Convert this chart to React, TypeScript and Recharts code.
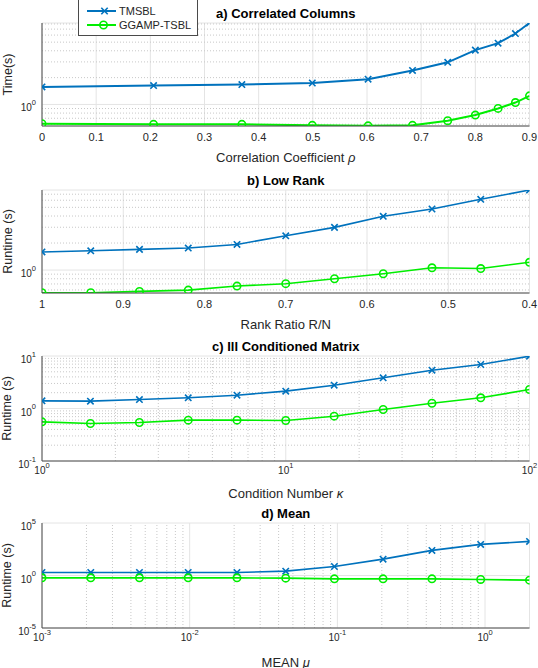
import React from "react";
import {
  LineChart,
  Line,
  XAxis,
  YAxis,
  CartesianGrid,
  ReferenceLine,
} from "recharts";

// a) correlated columns
const rhoValues = [0, 0.206, 0.369, 0.499, 0.602, 0.684, 0.749, 0.8, 0.842, 0.874, 0.9];
const corrTmsbl = [1.57, 1.63, 1.67, 1.74, 1.92, 2.41, 2.97, 4.07, 4.87, 6.25, 8.2];
const corrGgamp = [0.609, 0.598, 0.598, 0.583, 0.575, 0.583, 0.657, 0.76, 0.902, 1.05, 1.25];

// b) low rank
const rankRatios = [1, 0.94, 0.88, 0.82, 0.76, 0.7, 0.64, 0.58, 0.52, 0.46, 0.4];
const rankTmsbl = [1.59, 1.64, 1.7, 1.76, 1.93, 2.41, 2.99, 3.97, 4.79, 6.14, 7.8];
const rankGgamp = [0.559, 0.559, 0.578, 0.598, 0.663, 0.705, 0.8, 0.91, 1.06, 1.04, 1.22];

// c) ill conditioned matrix
const condNumbers = [1, 1.58, 2.51, 3.98, 6.31, 10, 15.8, 25.1, 39.8, 63.1, 100];
const condTmsbl = [1.4, 1.38, 1.48, 1.6, 1.79, 2.14, 2.78, 3.84, 5.37, 6.89, 9.93];
const condGgamp = [0.557, 0.518, 0.541, 0.6, 0.6, 0.591, 0.714, 0.957, 1.26, 1.6, 2.3];

// d) mean
const meanValues = [0.001, 0.00214, 0.00457, 0.00977, 0.0209, 0.0447, 0.0955, 0.204, 0.437, 0.934, 2];
const meanTmsbl = [1.94, 1.94, 1.94, 1.94, 1.94, 2.6, 7.2, 36, 245, 915, 1770];
const meanGgamp = [0.6, 0.6, 0.6, 0.6, 0.6, 0.56, 0.48, 0.48, 0.48, 0.42, 0.36];

// ticks
const rhoTicks = [0, 0.1, 0.2, 0.3, 0.4, 0.5, 0.6, 0.7, 0.8, 0.9];
const rankTicks = [1, 0.9, 0.8, 0.7, 0.6, 0.5, 0.4];
const condTicks = [1, 10, 100];
const meanTicks = [0.001, 0.01, 0.1, 1];
const unitTick = [1];
const condYTicks = [0.1, 1, 10];
const meanYTicks = [1e-5, 1, 1e5];

// minor grid values
const corrYMinor = [0.6, 0.7, 0.8, 0.9, 2, 3, 4, 5, 6, 7, 8];
const rankYMinor = [0.6, 0.7, 0.8, 0.9, 2, 3, 4, 5, 6, 7];
const condXMinor = [2, 3, 4, 5, 6, 7, 8, 9, 20, 30, 40, 50, 60, 70, 80, 90];
const condYMinor = [0.2, 0.3, 0.4, 0.5, 0.6, 0.7, 0.8, 0.9, 2, 3, 4, 5, 6, 7, 8, 9];
const meanXMinor = [
  0.002, 0.003, 0.004, 0.005, 0.006, 0.007, 0.008, 0.009,
  0.02, 0.03, 0.04, 0.05, 0.06, 0.07, 0.08, 0.09,
  0.2, 0.3, 0.4, 0.5, 0.6, 0.7, 0.8, 0.9,
];

const FONT = "'Liberation Sans', Arial, Helvetica, sans-serif";
const TEXT = "#262626";
const AXIS = "#4a4a4a";
const BLUE = "#0072BD";
const GREEN = "#00EE00";
const X_AXIS_H = 40;

const toRows = (xs: number[], a: number[], b: number[]) =>
  xs.map((x, i) => ({ x, tmsbl: a[i], ggamp: b[i] }));

const CrossDot = (props: any) => {
  const { cx, cy, index } = props;
  if (cx == null || cy == null) return null;
  const s = 3.2;
  return (
    <path
      key={`c${index}`}
      d={`M${cx - s},${cy - s}L${cx + s},${cy + s}M${cx - s},${cy + s}L${cx + s},${cy - s}`}
      stroke={BLUE}
      strokeWidth={1.6}
      fill="none"
    />
  );
};

const LinearXTick = (props: any) => {
  const { x, y, payload } = props;
  return (
    <text x={x} y={y + 15} textAnchor="middle" fontSize={11} fill={TEXT} fontFamily={FONT}>
      {String(payload.value)}
    </text>
  );
};

const PowXTick = (props: any) => {
  const { x, y, payload } = props;
  const e = Math.round(Math.log10(payload.value));
  return (
    <text x={x} y={y + 13} textAnchor="middle" fontSize={10} fill={TEXT} fontFamily={FONT}>
      10
      <tspan dy={-6.5} fontSize={7.5}>
        {String(e)}
      </tspan>
    </text>
  );
};

const PowYTick = (props: any) => {
  const { x, y, payload } = props;
  const e = Math.round(Math.log10(payload.value));
  return (
    <text x={x - 6} y={y + 7} textAnchor="end" fontSize={10} fill={TEXT} fontFamily={FONT}>
      10
      <tspan dy={-6.5} fontSize={7.5}>
        {String(e)}
      </tspan>
    </text>
  );
};

// x label under the axis, panel title above the plot area
const XTitle = (props: any) => {
  const { viewBox, text, dy, title, plotHeight } = props;
  if (!viewBox) return null;
  const cx = viewBox.x + viewBox.width / 2;
  return (
    <g>
      <text
        x={cx}
        y={viewBox.y + dy}
        textAnchor="middle"
        dominantBaseline="central"
        fontSize={13}
        fill={TEXT}
        fontFamily={FONT}
      >
        {text}
      </text>
      <text
        x={cx}
        y={viewBox.y - plotHeight - 10}
        textAnchor="middle"
        dominantBaseline="central"
        fontSize={13}
        fontWeight="bold"
        fill="#000"
        fontFamily={FONT}
      >
        {title}
      </text>
    </g>
  );
};

const YTitle = (props: any) => {
  const { viewBox, text, cx } = props;
  if (!viewBox) return null;
  const cy = viewBox.y + viewBox.height / 2;
  return (
    <text
      x={cx}
      y={cy}
      transform={`rotate(-90 ${cx} ${cy})`}
      textAnchor="middle"
      dominantBaseline="central"
      fontSize={12.5}
      fill={TEXT}
      fontFamily={FONT}
    >
      {text}
    </text>
  );
};

interface PanelProps {
  top: number;
  height: number;
  marginTop: number;
  title: string;
  xLabel: React.ReactNode;
  xLabelDy: number;
  yLabel: string;
  yLabelX: number;
  rows: Array<Record<string, number>>;
  xLog?: boolean;
  xDomain: number[];
  xTicks: number[];
  xReversed?: boolean;
  xMinor?: number[];
  yDomain: number[];
  yTicks: number[];
  yMinor?: number[];
  lineWidth: number;
}

function Panel(p: PanelProps) {
  const plotHeight = p.height - p.marginTop - X_AXIS_H;
  return (
    <div style={{ position: "absolute", left: 0, top: p.top }}>
      <LineChart
        width={538}
        height={p.height}
        data={p.rows}
        margin={{ top: p.marginTop, right: 8.5, left: 0, bottom: 0 }}
      >
        <CartesianGrid stroke="#e4e4e4" strokeWidth={1} />
        {(p.xMinor || []).map((v) => (
          <ReferenceLine key={`vx${v}`} x={v} stroke="#c8c8c8" strokeDasharray="1 2" ifOverflow="hidden" />
        ))}
        {(p.yMinor || []).map((v) => (
          <ReferenceLine key={`vy${v}`} y={v} stroke="#c8c8c8" strokeDasharray="1 2" ifOverflow="hidden" />
        ))}
        <XAxis
          dataKey="x"
          type="number"
          scale={p.xLog ? "log" : "linear"}
          domain={p.xDomain}
          ticks={p.xTicks}
          reversed={p.xReversed}
          allowDataOverflow
          interval={0}
          height={X_AXIS_H}
          tickSize={0}
          tickLine={false}
          tickMargin={0}
          stroke={AXIS}
          tick={p.xLog ? <PowXTick /> : <LinearXTick />}
          label={<XTitle text={p.xLabel} dy={p.xLabelDy} title={p.title} plotHeight={plotHeight} />}
        />
        <XAxis
          xAxisId="top"
          dataKey="x"
          type="number"
          orientation="top"
          scale={p.xLog ? "log" : "linear"}
          domain={p.xDomain}
          allowDataOverflow
          height={0}
          tick={false}
          tickLine={false}
          stroke={AXIS}
        />
        <YAxis
          type="number"
          scale="log"
          domain={p.yDomain}
          ticks={p.yTicks}
          allowDataOverflow
          interval={0}
          width={42}
          tickSize={0}
          tickLine={false}
          tickMargin={0}
          stroke={AXIS}
          tick={<PowYTick />}
          label={<YTitle text={p.yLabel} cx={p.yLabelX} />}
        />
        <YAxis
          yAxisId="right"
          orientation="right"
          type="number"
          domain={[0, 1]}
          width={0}
          tick={false}
          tickLine={false}
          stroke={AXIS}
        />
        <Line
          type="linear"
          dataKey="tmsbl"
          stroke={BLUE}
          strokeWidth={p.lineWidth}
          dot={<CrossDot />}
          activeDot={false}
          isAnimationActive={false}
        />
        <Line
          type="linear"
          dataKey="ggamp"
          stroke={GREEN}
          strokeWidth={p.lineWidth}
          dot={{ r: 3.7, fill: "none", stroke: GREEN, strokeWidth: 1.6 }}
          activeDot={false}
          isAnimationActive={false}
        />
      </LineChart>
    </div>
  );
}

function LegendBox() {
  return (
    <div
      style={{
        position: "absolute",
        left: 78,
        top: -1,
        width: 118,
        height: 35,
        border: `1px solid ${AXIS}`,
        background: "#fff",
      }}
    >
      <svg width={118} height={35} style={{ position: "absolute", left: 0, top: 0 }}>
        <line x1={8} x2={37} y1={11} y2={11} stroke={BLUE} strokeWidth={2} />
        <path d="M22.3,7.8L28.7,14.2M22.3,14.2L28.7,7.8" stroke={BLUE} strokeWidth={1.6} />
        <line x1={8} x2={37} y1={25} y2={25} stroke={GREEN} strokeWidth={2} />
        <circle cx={24.5} cy={25} r={3.7} fill="none" stroke={GREEN} strokeWidth={1.6} />
        <text x={40} y={15} fontSize={11} fill={TEXT} fontFamily={FONT}>TMSBL</text>
        <text x={40} y={29} fontSize={11} fill={TEXT} fontFamily={FONT}>GGAMP-TSBL</text>
      </svg>
    </div>
  );
}

const Greek = ({ ch }: { ch: string }) => <tspan fontStyle="italic">{ch}</tspan>;

export default function App() {
  return (
    <div
      style={{
        position: "absolute",
        left: 0,
        top: 0,
        width: 538,
        height: 668,
        overflow: "hidden",
        background: "#fff",
      }}
    >
      <Panel
        top={0}
        height={166}
        marginTop={23}
        title="a) Correlated Columns"
        xLabel={<>Correlation Coefficient <Greek ch="ρ" /></>}
        xLabelDy={31}
        yLabel="Time(s)"
        yLabelX={8}
        rows={toRows(rhoValues, corrTmsbl, corrGgamp)}
        xDomain={[0, 0.9]}
        xTicks={rhoTicks}
        yDomain={[0.573, 8.2]}
        yTicks={unitTick}
        yMinor={corrYMinor}
        lineWidth={2}
      />
      <Panel
        top={168}
        height={165}
        marginTop={22}
        title="b) Low Rank"
        xLabel="Rank Ratio R/N"
        xLabelDy={31}
        yLabel="Runtime (s)"
        yLabelX={7.5}
        rows={toRows(rankRatios, rankTmsbl, rankGgamp)}
        xDomain={[0.4, 1]}
        xTicks={rankTicks}
        xReversed
        yDomain={[0.555, 7.8]}
        yTicks={unitTick}
        yMinor={rankYMinor}
        lineWidth={1.6}
      />
      <Panel
        top={334}
        height={167}
        marginTop={22}
        title="c) Ill Conditioned Matrix"
        xLabel={<>Condition Number <Greek ch="κ" /></>}
        xLabelDy={32}
        yLabel="Runtime (s)"
        yLabelX={6.5}
        rows={toRows(condNumbers, condTmsbl, condGgamp)}
        xLog
        xDomain={[1, 100]}
        xTicks={condTicks}
        xMinor={condXMinor}
        yDomain={[0.1, 10]}
        yTicks={condYTicks}
        yMinor={condYMinor}
        lineWidth={1.6}
      />
      <Panel
        top={500}
        height={168}
        marginTop={23}
        title="d) Mean"
        xLabel={<>MEAN <Greek ch="μ" /></>}
        xLabelDy={34}
        yLabel="Runtime (s)"
        yLabelX={6.5}
        rows={toRows(meanValues, meanTmsbl, meanGgamp)}
        xLog
        xDomain={[0.001, 2]}
        xTicks={meanTicks}
        xMinor={meanXMinor}
        yDomain={[1e-5, 1e5]}
        yTicks={meanYTicks}
        lineWidth={1.6}
      />
      <LegendBox />
    </div>
  );
}
